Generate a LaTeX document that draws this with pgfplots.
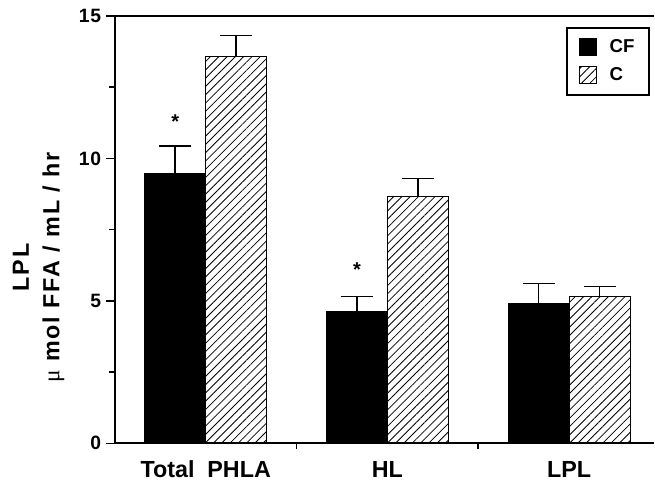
\documentclass[border=0pt]{standalone}
\usepackage{fontspec}
\setmainfont{Liberation Sans}
\newfontfamily\seriff{Liberation Serif}
\usepackage{pgfplots}
\pgfplotsset{compat=1.18}
\usetikzlibrary{patterns.meta}
\tikzset{hatch/.style={pattern={Lines[angle=45,distance=4.4pt,line width=0.6pt]}}}
\begin{document}
\begin{tikzpicture}
\begin{axis}[
  scale only axis,
  width=405pt, height=321pt,
  xmin=-0.5, xmax=2.467,
  ymin=0, ymax=15,
  axis x line*=box, axis y line*=left,
  axis line style={line width=1.5pt},
  ytick={0,5,10,15}, minor y tick num=1,
  xtick={0,1,2},
  xticklabels={Total\ \ PHLA, HL, LPL},
  minor xtick={0.5,1.5},
  xtick pos=bottom, ytick pos=left,
  tick align=outside,
  major tick length=6.75pt, minor tick length=4pt,
  major x tick style={draw=none},
  every tick/.style={line width=1.2pt, black},
  tick label style={font=\bfseries\fontsize{14.5}{16}\selectfont\addfontfeature{LetterSpace=4}},
  xticklabel style={font=\bfseries\fontsize{17.5}{20}\selectfont, yshift=-3pt},
  /pgf/number format/assume math mode=true,
  ylabel={LPL\\{\seriff\mdseries μ} mol FFA / mL / hr},
  ylabel style={align=center, font=\bfseries\fontsize{17.5}{23}\selectfont\addfontfeature{LetterSpace=8}, yshift=4pt, xshift=-28.5pt},
  ybar=0pt, bar width=45.75pt,
  area legend,
  legend style={at={(0.993,0.975)}, anchor=north east, draw=black, line width=1.5pt,
    font=\bfseries\fontsize{14}{15}\selectfont, row sep=6pt,
    inner xsep=9pt, inner ysep=7pt},
  legend cell align=left,
  legend image code/.code={\draw[#1, line width=0.9pt] (0pt,-6pt) rectangle (12.5pt,6.5pt);},
  error bars/error bar style={line width=1.2pt},
  error bars/error mark options={rotate=90, mark size=12pt, line width=1.2pt},
]
\addplot[fill=black, draw=black, line width=0.8pt,
  error bars/.cd, y dir=plus, y explicit]
  coordinates {(0,9.46) +- (0,0.98) (1,4.62) +- (0,0.54) (2,4.91) +- (0,0.70)};
\addplot[hatch, draw=black, line width=0.8pt,
  error bars/.cd, y dir=plus, y explicit]
  coordinates {(0,13.58) +- (0,0.74) (1,8.65) +- (0,0.64) (2,5.16) +- (0,0.35)};
\legend{\ \ CF,\ \ C}
\node[font=\bfseries\fontsize{15}{15}\selectfont] at (axis cs:-0.1675,11.3) {*};
\node[font=\bfseries\fontsize{15}{15}\selectfont] at (axis cs:0.8325,6.08) {*};
\end{axis}
\path (current axis.south west) ++(-86.25pt,-28.5pt) coordinate (bbl);
\path (current axis.north west) ++(-86.25pt,12pt) coordinate (btl);
\path (bbl) (btl);
\end{tikzpicture}
\end{document}
